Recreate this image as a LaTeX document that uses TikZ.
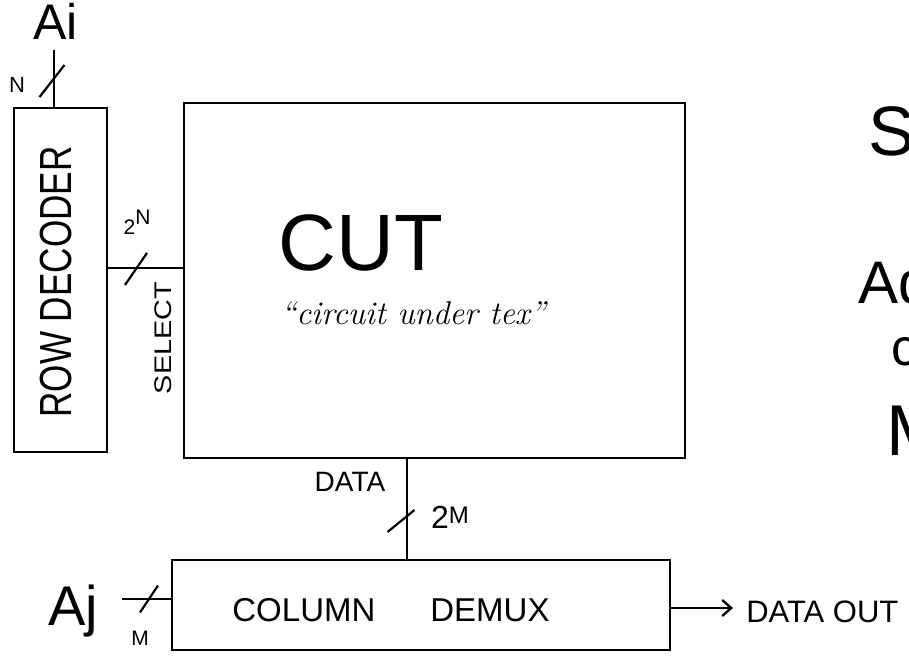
\documentclass[tikz,border=0pt]{standalone}
\usepackage{fontspec}
\usepackage{graphicx}
\newfontfamily\hand{Liberation Sans}
\usetikzlibrary{arrows.meta}
\newcommand{\fs}[1]{\fontsize{#1}{#1}\selectfont}
\begin{document}
\begin{tikzpicture}[x=1pt,y=-1pt,line width=2.6pt,
  box/.style={draw,rectangle,inner sep=0pt,line width=2.6pt},
  lbl/.style={inner sep=0pt,font=\hand},
  wire/.style={draw,line width=2.6pt},
  busmark/.style={line width=2.2pt}]
\useasboundingbox (0,0) rectangle (909,669);
\fill[white] (0,0) rectangle (909,669);

% boxes
\node[box,minimum width=93pt,minimum height=344pt] (rowdec) at (60.5,280) {};
\node[box,minimum width=501pt,minimum height=355pt] (cut) at (434.5,280.5) {};
\node[box,minimum width=498pt,minimum height=90pt] (coldemux) at (421,605) {};

% helper coordinates
\coordinate (aiIn) at (54,50);
\coordinate (selY) at (0,268);
\coordinate (dataX) at (407,0);
\coordinate (ajIn) at (122,599);
\coordinate (outY) at (0,608);
\coordinate (outEnd) at (733,608);

% connectors
\draw[wire] (aiIn) -- (aiIn |- rowdec.north);
\draw[wire] (rowdec.east |- selY) -- (cut.west |- selY);
\draw[wire] (dataX |- cut.south) -- (dataX |- coldemux.north);
\draw[wire] (ajIn) -- (ajIn -| coldemux.west);
\draw[wire,-{Straight Barb[length=9pt,width=16pt,line width=2.4pt]}] (coldemux.east |- outY) -- (outEnd);

% bus slash marks
\coordinate (s1) at (52,81);
\coordinate (s2) at (136,269);
\coordinate (s3) at (401,521);
\coordinate (s4) at (149,599);
\draw[busmark] ([shift={(-12.5,16)}]s1) -- ([shift={(12.5,-16)}]s1);
\draw[busmark] ([shift={(-11,16)}]s2) -- ([shift={(11,-16)}]s2);
\draw[busmark] ([shift={(-13.5,11)}]s3) -- ([shift={(13.5,-11)}]s3);
\draw[busmark] ([shift={(-9,13.5)}]s4) -- ([shift={(9,-13.5)}]s4);

% labels
\node[lbl,anchor=base west] (ai) at (32,40) {\fs{50}Ai};
\node[lbl] (nlbl) at (17,85) {\fs{22}N};
\node[lbl,rotate=90] (rdtext) at (56,282) {\fs{45}\scalebox{0.78}[1]{ROW DECODER}};
\node[lbl,rotate=90] (seltext) at (163,338) {\fs{24}\scalebox{1.2}[1]{SELECT}};
\node[lbl] (twoN) at (137,222) {\fs{21}2\raisebox{10pt}{N}};
\node[lbl] (cuttext) at (361,243) {\fs{80}CUT};
\node[inner sep=0pt] (cutsub) at (413,313) {\fs{33}\itshape ``circuit under tex''};
\node[lbl] (datalbl) at (350,482) {\fs{28}DATA};
\node[lbl] (twoM) at (450,517) {\fs{32}2\raisebox{5pt}{\fs{24}M}};
\node[lbl] (cdtext) at (391,610) {\fs{33}COLUMN\hspace{55pt}DEMUX};
\node[lbl,anchor=base west] (aj) at (47,625) {\fs{56}Aj};
\node[lbl] (mlbl) at (140,638) {\fs{21}M};
\node[lbl,anchor=west] (dout) at (745,612) {\fs{31}DATA OUT};

% letters cut off by the right edge, as in the reference
\begin{scope}
\clip (0,0) rectangle (909,669);
\node[lbl,anchor=base west] (rS) at (867,155) {\fs{70}S};
\node[lbl,anchor=base west] (rAd) at (857,303) {\fs{60}Ad};
\node[lbl,anchor=base west] (rc) at (890,365) {\fs{52}c};
\node[lbl,anchor=base west] (rM) at (885,455) {\fs{72}M};
\end{scope}
\end{tikzpicture}
\end{document}
